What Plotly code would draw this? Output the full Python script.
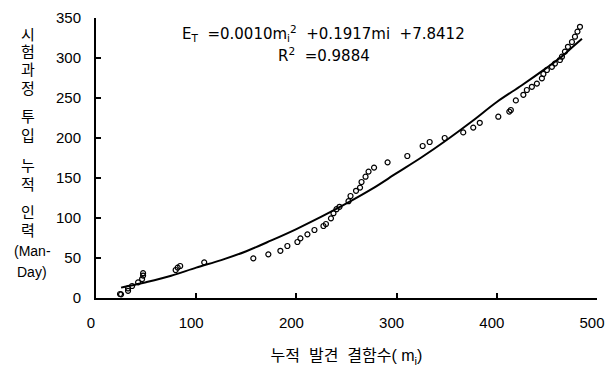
import plotly.graph_objects as go

# Observed points: cumulative defects found (m_i) vs cumulative man-days
defects_m = [24, 25, 32, 32, 36, 42, 46, 47, 47, 79.5, 81.5, 84, 108,
             157, 172, 184, 191, 201, 204, 211, 218, 227, 229.5, 234.5, 237, 240, 243,
             252, 254, 259.5, 263.5, 265, 269, 272, 277.5, 291, 310.7,
             326, 333, 348, 366.5, 376.5, 383, 401.5, 412.5, 414, 419, 426.5,
             430, 435, 440, 445, 446.5, 450, 455, 458, 463, 465, 468, 471, 475, 478, 480.5, 483]
effort_v = [5, 4.6, 9, 12, 15, 19.6, 23.7, 28, 31, 35, 38, 40, 44.6,
            49.6, 54.6, 59, 65, 70, 74.6, 79.6, 85, 90, 92.5, 99.6, 106, 111, 114,
            121, 127.5, 134, 138, 145, 151.6, 158, 163, 169.6, 177.5,
            190, 195, 200, 207, 213, 219, 226.6, 233, 235, 247, 254,
            260, 264, 268, 274.6, 280, 285, 289, 293, 297.5, 301.6, 308, 314, 320, 326.6, 333, 339]

# Fitted curve as drawn in the picture
curve_m = [25, 30, 40, 50, 75, 100, 125, 150, 175, 200, 225, 250, 275, 300,
           325, 350, 375, 400, 425, 450, 465, 475, 485]
curve_v = [13, 14.5, 17, 19.8, 27.8, 38, 47.4, 58.5, 72, 86.2, 101.6, 118.2, 136, 156,
           175.9, 197.5, 220.6, 245, 266, 288, 302, 313, 324]

x_ticks = [0, 100, 200, 300, 400, 500]
y_ticks = [0, 50, 100, 150, 200, 250, 300, 350]

y_title_lines = ["시", "험", "과", "정", "투", "입", "누", "적", "인", "력", "(Man-", "Day)"]
y_title_py = [34, 51, 69, 88, 116, 135, 165, 184, 212, 230, 251, 272]

FONT = "Liberation Sans, Arial, Noto Sans CJK KR, sans-serif"
EQ_FONT = "DejaVu Sans, Liberation Sans, sans-serif"

fig = go.Figure()
fig.add_trace(go.Scatter(x=defects_m, y=effort_v, mode="markers",
                         marker=dict(symbol="circle-open", size=5, color="black",
                                     line=dict(width=1.2, color="black")),
                         showlegend=False))
fig.add_trace(go.Scatter(x=curve_m, y=curve_v, mode="lines", line_shape="spline",
                         line=dict(color="black", width=2), showlegend=False))

L, R, T, B = 96, 9, 18, 69
W, H = 606, 367
pw, ph = W - L - R, H - T - B

annotations = []
for txt, py in zip(y_title_lines, y_title_py):
    xc = 28 if len(txt) == 1 else 32
    annotations.append(dict(text=txt, xref="paper", yref="paper",
                            x=(xc - L) / pw, y=(H - B - py) / ph,
                            xanchor="center", yanchor="middle", showarrow=False,
                            font=dict(size=15 if len(txt) == 1 else 14,
                                      color="black", family=FONT)))

annotations.append(dict(
    text="E<sub>T</sub>  =0.0010m<sub>i</sub><sup>2</sup>  +0.1917mi  +7.8412",
    xref="paper", yref="paper", x=(323 - L) / pw, y=(H - B - 33) / ph,
    xanchor="center", yanchor="middle", showarrow=False,
    font=dict(size=15, color="black", family=EQ_FONT)))
annotations.append(dict(
    text="R<sup>2</sup>  =0.9884",
    xref="paper", yref="paper", x=(324 - L) / pw, y=(H - B - 55) / ph,
    xanchor="center", yanchor="middle", showarrow=False,
    font=dict(size=15, color="black", family=EQ_FONT)))

fig.update_layout(
    width=W, height=H,
    margin=dict(l=L, r=R, t=T, b=B, pad=0, autoexpand=False),
    paper_bgcolor="white", plot_bgcolor="white",
    font=dict(family=FONT, size=14, color="black"),
    annotations=annotations,
    xaxis=dict(range=[0, 500], tickvals=x_ticks, ticks="inside", ticklen=5,
               tickwidth=2, tickcolor="black", showline=True, linecolor="black",
               linewidth=2, showgrid=False, zeroline=False, ticklabelstandoff=10,
               ticklabelshift=-5,
               tickfont=dict(size=15), automargin=False, ticklabeloverflow="allow",
               title=dict(text="누적  발견  결함수( m<sub>i</sub>)", standoff=20,
                          font=dict(size=16, family=FONT))),
    yaxis=dict(range=[0, 350], tickvals=y_ticks, ticks="inside", ticklen=5,
               tickwidth=2, tickcolor="black", showline=True, linecolor="black",
               linewidth=2, showgrid=False, zeroline=False, ticklabelstandoff=10,
               tickfont=dict(size=15), automargin=False, ticklabeloverflow="allow"),
)

fig.write_html("out.html")
